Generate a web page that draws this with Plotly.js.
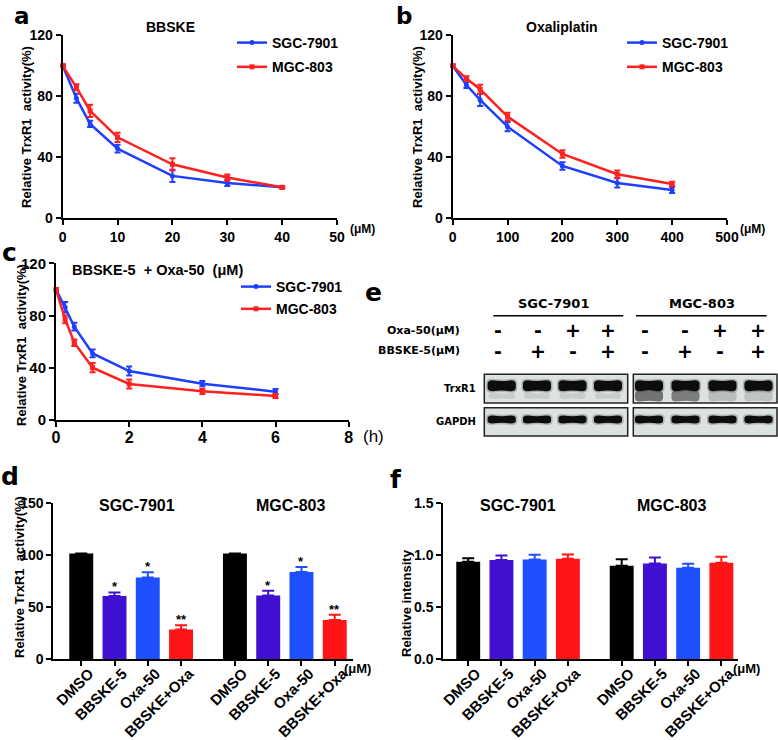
<!DOCTYPE html>
<html><head><meta charset="utf-8">
<script src="https://cdn.plot.ly/plotly-3.0.1.min.js"></script>
<style>body{margin:0;background:#fff}#chart{width:778px;height:740px}</style>
</head><body><div id="chart"></div>
<script>
// ---------- data ----------
// Panel a: BBSKE dose (uM)
const concBBSKE = [0, 2.5, 5, 10, 20, 30, 40];
const a_sgc = [100, 78.7, 61.9, 45.7, 27.8, 23.2, 20.3];
const a_sgcErr = [0.8, 3, 2, 2.5, 4, 2, 0.6];
const a_mgc = [100, 85.9, 70.4, 53.1, 35.4, 26.7, 20.3];
const a_mgcErr = [0.8, 2, 4, 3, 4, 2, 0.6];
// Panel b: Oxaliplatin dose (uM)
const concOxa = [0, 25, 50, 100, 200, 300, 400];
const b_sgc = [100, 87.4, 77.6, 60.1, 34.3, 23.2, 18.6];
const b_sgcErr = [0.8, 2, 4, 3, 2.5, 3, 2];
const b_mgc = [100, 91.6, 84.6, 66.7, 42.2, 28.9, 22.5];
const b_mgcErr = [0.8, 1.5, 3, 2.5, 2.5, 2.5, 1.5];
// Panel c: time (h)
const timeH = [0, 0.25, 0.5, 1, 2, 4, 6];
const c_sgc = [100, 86.3, 71.5, 51, 37.5, 27.8, 21.7];
const c_sgcErr = [1, 4, 3, 3, 3.5, 2, 2];
const c_mgc = [100, 77.1, 59.2, 40.1, 27.6, 22, 18.4];
const c_mgcErr = [1, 3, 2.5, 3.5, 3.5, 2, 1.5];
// Panels d / f
const treatments = ['DMSO', 'BBSKE-5', 'Oxa-50', 'BBSKE+Oxa'];
const cellLines = ['SGC-7901', 'MGC-803'];
const d_sgc = [101.3, 60.4, 78.3, 28.4];
const d_sgcErr = [0, 3.5, 5, 4];
const d_mgc = [101.3, 61, 83.4, 37.4];
const d_mgcErr = [0, 4.5, 5, 5];
const d_sgcSig = ['', '*', '*', '**'];
const d_mgcSig = ['', '*', '*', '**'];
const f_sgc = [0.933, 0.949, 0.955, 0.962];
const f_sgcErr = [0.035, 0.045, 0.045, 0.041];
const f_mgc = [0.895, 0.917, 0.875, 0.923];
const f_mgcErr = [0.063, 0.057, 0.039, 0.058];
// Panel e: western blot lane conditions
const oxaSigns = ['-', '-', '+', '+'];
const bbskeSigns = ['-', '+', '-', '+'];
const blotRows = ['TrxR1', 'GAPDH'];

// ---------- styling ----------
const W = 778, H = 740;
const X = v => v / W, Y = v => 1 - v / H;
const dom = (a, b) => [a / W, b / W];
const vdom = (top, bot) => [1 - bot / H, 1 - top / H];
const BLUE = '#1f3fff', RED = '#ff2020';
const barColors = ['#000000', '#3f10cf', '#1f50ff', '#ff1515'];
const ARIAL = 'Arial, "Liberation Sans", sans-serif';
const VERD = '"DejaVu Sans", Verdana, sans-serif';
const bold = (size, fam) => ({family: fam || ARIAL, size: size, color: '#000', weight: 'bold'});

const traces = [];
function lineTrace(x, y, err, color, name, symbol, xa, ya, leg, grp) {
  return {
    type: 'scatter', mode: 'lines+markers', x: x, y: y, name: name,
    xaxis: xa, yaxis: ya, legend: leg, legendgroup: grp, cliponaxis: false,
    line: {color: color, width: 2.5},
    marker: {color: color, size: 5, symbol: symbol},
    error_y: {type: 'data', array: err, visible: true, color: color, thickness: 2, width: 3}
  };
}
traces.push(lineTrace(concBBSKE, a_sgc, a_sgcErr, BLUE, 'SGC-7901', 'circle', 'x', 'y', 'legend', 'a1'));
traces.push(lineTrace(concBBSKE, a_mgc, a_mgcErr, RED, 'MGC-803', 'square', 'x', 'y', 'legend', 'a2'));
traces.push(lineTrace(concOxa, b_sgc, b_sgcErr, BLUE, 'SGC-7901', 'circle', 'x2', 'y2', 'legend2', 'b1'));
traces.push(lineTrace(concOxa, b_mgc, b_mgcErr, RED, 'MGC-803', 'square', 'x2', 'y2', 'legend2', 'b2'));
traces.push(lineTrace(timeH, c_sgc, c_sgcErr, BLUE, 'SGC-7901', 'circle', 'x3', 'y3', 'legend3', 'c1'));
traces.push(lineTrace(timeH, c_mgc, c_mgcErr, RED, 'MGC-803', 'square', 'x3', 'y3', 'legend3', 'c2'));

// bar positions: two groups of four with a gap
const groupOffset = 4.62;
const pos1 = treatments.map((t, i) => i);
const pos2 = treatments.map((t, i) => i + groupOffset);
const tickPos = pos1.concat(pos2);
const tickText = treatments.concat(treatments);

function barTraces(v1, e1, v2, e2, xa, ya) {
  treatments.forEach((t, i) => {
    traces.push({
      type: 'bar', x: [pos1[i], pos2[i]], y: [v1[i], v2[i]], xaxis: xa, yaxis: ya,
      width: 0.72, showlegend: false, name: t,
      marker: {color: barColors[i], line: {width: 0}},
      error_y: {type: 'data', symmetric: false, array: [e1[i], e2[i]], arrayminus: [0, 0],
                visible: true, color: barColors[i], thickness: 2, width: 6}
    });
  });
}
barTraces(d_sgc, d_sgcErr, d_mgc, d_mgcErr, 'x4', 'y4');
barTraces(f_sgc, f_sgcErr, f_mgc, f_mgcErr, 'x5', 'y5');

// ---------- axes ----------
function ax(domain, range, anchor, extra) {
  return Object.assign({
    domain: domain, range: range, anchor: anchor, showline: true, linewidth: 2, linecolor: '#000',
    ticks: 'outside', ticklen: 5, tickwidth: 2, tickcolor: '#000', showgrid: false, zeroline: false,
    tickfont: bold(14), fixedrange: true
  }, extra || {});
}
const barX = {tickvals: tickPos, ticktext: tickText, tickangle: -45, tickfont: bold(15),
              ticklabelshift: 8, ticklabelstandoff: -7};
const layout = {
  width: W, height: H, margin: {l: 0, r: 0, t: 0, b: 0},
  paper_bgcolor: '#fff', plot_bgcolor: 'rgba(0,0,0,0)', showlegend: true, barmode: 'overlay',
  xaxis: ax(dom(62.7, 337), [0, 50], 'y', {tickvals: [0, 10, 20, 30, 40, 50]}),
  yaxis: ax(vdom(35.3, 218.3), [0, 120], 'x', {tickvals: [0, 40, 80, 120]}),
  xaxis2: ax(dom(452.7, 727), [0, 500], 'y2', {tickvals: [0, 100, 200, 300, 400, 500]}),
  yaxis2: ax(vdom(35.3, 218.3), [0, 120], 'x2', {tickvals: [0, 40, 80, 120]}),
  xaxis3: ax(dom(56, 348.7), [0, 8], 'y3', {tickvals: [0, 2, 4, 6, 8], tickfont: bold(16), ticklabelstandoff: -3}),
  yaxis3: ax(vdom(263.3, 420), [0, 120], 'x3', {tickvals: [0, 40, 80, 120], tickfont: bold(15)}),
  xaxis4: ax(dom(53.3, 352.7), [-0.84, 8.16], 'y4', barX),
  yaxis4: ax(vdom(502.7, 659), [0, 150], 'x4', {tickvals: [0, 50, 100, 150], tickfont: bold(14)}),
  xaxis5: ax(dom(443.3, 738.3), [-0.75, 8.13], 'y5', barX),
  yaxis5: ax(vdom(502.7, 659), [0, 1.5], 'x5', {tickvals: [0, 0.5, 1, 1.5], tickformat: '.1f', tickfont: bold(14)}),
  legend: {x: X(232), y: Y(27), xanchor: 'left', yanchor: 'top', font: bold(14), bgcolor: 'rgba(0,0,0,0)', tracegroupgap: 3, traceorder: 'grouped'},
  legend2: {x: X(622), y: Y(27), xanchor: 'left', yanchor: 'top', font: bold(14), bgcolor: 'rgba(0,0,0,0)', tracegroupgap: 3, traceorder: 'grouped'},
  legend3: {x: X(236), y: Y(271), xanchor: 'left', yanchor: 'top', font: bold(14), bgcolor: 'rgba(0,0,0,0)', tracegroupgap: 1, traceorder: 'grouped'},
  annotations: [], shapes: []
};

const ann = layout.annotations, shp = layout.shapes;
function note(text, x, y, font, opts) {
  ann.push(Object.assign({text: text, x: X(x), y: Y(y), xref: 'paper', yref: 'paper',
    showarrow: false, xanchor: 'center', yanchor: 'middle', font: font}, opts || {}));
}
// panel letters
note('a', 22, 0.5, bold(23, VERD), {yanchor: 'top'});
note('b', 404, 0.5, bold(23, VERD), {yanchor: 'top'});
[['c', 9, 252], ['d', 10, 476], ['e', 373, 292], ['f', 396, 479]]
  .forEach(p => note(p[0], p[1], p[2], bold(25, VERD)));
// titles
note('BBSKE', 170.7, 27, bold(14));
note('Oxaliplatin', 561.7, 27, bold(14));
note('BBSKE-5\u00a0 + Oxa-50\u00a0 (μM)', 157, 270, bold(14.5));
note('(μM)', 362.5, 229, bold(12));
note('(μM)', 752.5, 229, bold(12));
note('(h)', 373, 436, {family: ARIAL, size: 17, color: '#000'});
note('(μM)', 357.5, 668, bold(13));
note('(μM)', 746, 668, bold(13));
// y-axis titles
const ytitle = 'Relative TrxR1\u00a0 activity(%)';
note(ytitle, 26, 127, bold(13), {textangle: -90});
note(ytitle, 417, 127, bold(13), {textangle: -90});
note(ytitle, 21, 345, bold(13), {textangle: -90});
note(ytitle, 19, 577, bold(13), {textangle: -90});
note('Relative intensity', 406, 603, bold(13), {textangle: -90});
// group titles on bar panels
note(cellLines[0], 136.7, 505, bold(16));
note(cellLines[1], 290, 505, bold(16));
note(cellLines[0], 517.7, 505, bold(16));
note(cellLines[1], 671.7, 505, bold(16));
// significance stars (positioned from the data)
function stars(vals, errs, sig, pos, xa, ya) {
  sig.forEach((s, i) => {
    if (!s) return;
    ann.push({text: s, x: pos[i], y: vals[i] + errs[i], xref: xa, yref: ya, showarrow: false,
      xanchor: 'center', yanchor: 'bottom', yshift: -4, font: bold(13)});
  });
}
stars(d_sgc, d_sgcErr, d_sgcSig, pos1, 'x4', 'y4');
stars(d_mgc, d_mgcErr, d_mgcSig, pos2, 'x4', 'y4');

// ---------- panel e: western blot ----------
const laneX = [[501.7, 537, 572.5, 608], [649, 685.5, 722.5, 758.5]];
const signX = [[497.7, 538.3, 573.3, 608.3], [645, 685, 720, 758.3]];
note(cellLines[0], 553.3, 303.3, bold(13, VERD));
note(cellLines[1], 702.3, 303.3, bold(13, VERD));
shp.push({type: 'line', xref: 'paper', yref: 'paper', x0: X(493.3), x1: X(623.3), y0: Y(315.7), y1: Y(315.7), line: {color: '#000', width: 1.5}});
shp.push({type: 'line', xref: 'paper', yref: 'paper', x0: X(636), x1: X(766.7), y0: Y(315.7), y1: Y(315.7), line: {color: '#000', width: 1.5}});
note('Oxa-50(μM)', 462, 330, bold(11, VERD), {xanchor: 'right'});
note('BBSKE-5(μM)', 462, 350, bold(11, VERD), {xanchor: 'right'});
[0, 1].forEach(g => {
  oxaSigns.forEach((s, i) => note(s, signX[g][i], 330, bold(19, VERD)));
  bbskeSigns.forEach((s, i) => note(s, signX[g][i], 351, bold(19, VERD)));
});
note(blotRows[0], 478, 388, bold(10, VERD), {xanchor: 'right'});
note(blotRows[1], 478, 421, bold(10, VERD), {xanchor: 'right'});

const boxes = [[484.3, 627.7], [633.3, 777]];
const rowY = [[374.3, 403], [407.7, 436]];
boxes.forEach(b => rowY.forEach(r => {
  shp.push({type: 'rect', xref: 'paper', yref: 'paper', x0: X(b[0]), x1: X(b[1]), y0: Y(r[0]), y1: Y(r[1]),
    fillcolor: '#dce2df', line: {color: '#222', width: 1.5}});
}));
function band(cx, cy, w, h, color, op) {
  const x1 = cx - w / 2, x2 = cx + w / 2, y1 = cy - h / 2, y2 = cy + h / 2, r = 5, p = 1.6;
  const P = (x, y) => X(x).toFixed(5) + ',' + Y(y).toFixed(5);
  const path = 'M' + P(x1 + r, y1) + ' Q' + P(cx, y1 + p) + ' ' + P(x2 - r, y1) +
    ' Q' + P(x2 + 1, y1) + ' ' + P(x2, cy) + ' Q' + P(x2 + 1, y2) + ' ' + P(x2 - r, y2) +
    ' Q' + P(cx, y2 - p) + ' ' + P(x1 + r, y2) + ' Q' + P(x1 - 1, y2) + ' ' + P(x1, cy) +
    ' Q' + P(x1 - 1, y1) + ' ' + P(x1 + r, y1) + ' Z';
  shp.push({type: 'path', xref: 'paper', yref: 'paper', path: path, fillcolor: color, opacity: op, line: {width: 0}});
}
// faint smear below the TrxR1 bands (strong in MGC lanes 1-2)
[[649, 0.55], [685.5, 0.5], [722.5, 0.18], [758.5, 0.15]].forEach(s => {
  band(s[0], 396, 28, 11, '#1a1a1a', s[1]);
});
laneX[0].forEach(cx => band(cx, 396, 26, 6, '#555', 0.15));
laneX.forEach((lanes, g) => lanes.forEach(cx => {
  band(cx, 385.8, 31, 14, '#444', 0.3);
  band(cx, 385.8, 28, 11, '#0d0d0d', 1);
  band(cx, 419.5, 31, 11, '#444', 0.3);
  band(cx, 419.5, 28, 8, '#0d0d0d', 1);
}));

Plotly.newPlot('chart', traces, layout, {staticPlot: true, displayModeBar: false});
</script>
</body></html>
